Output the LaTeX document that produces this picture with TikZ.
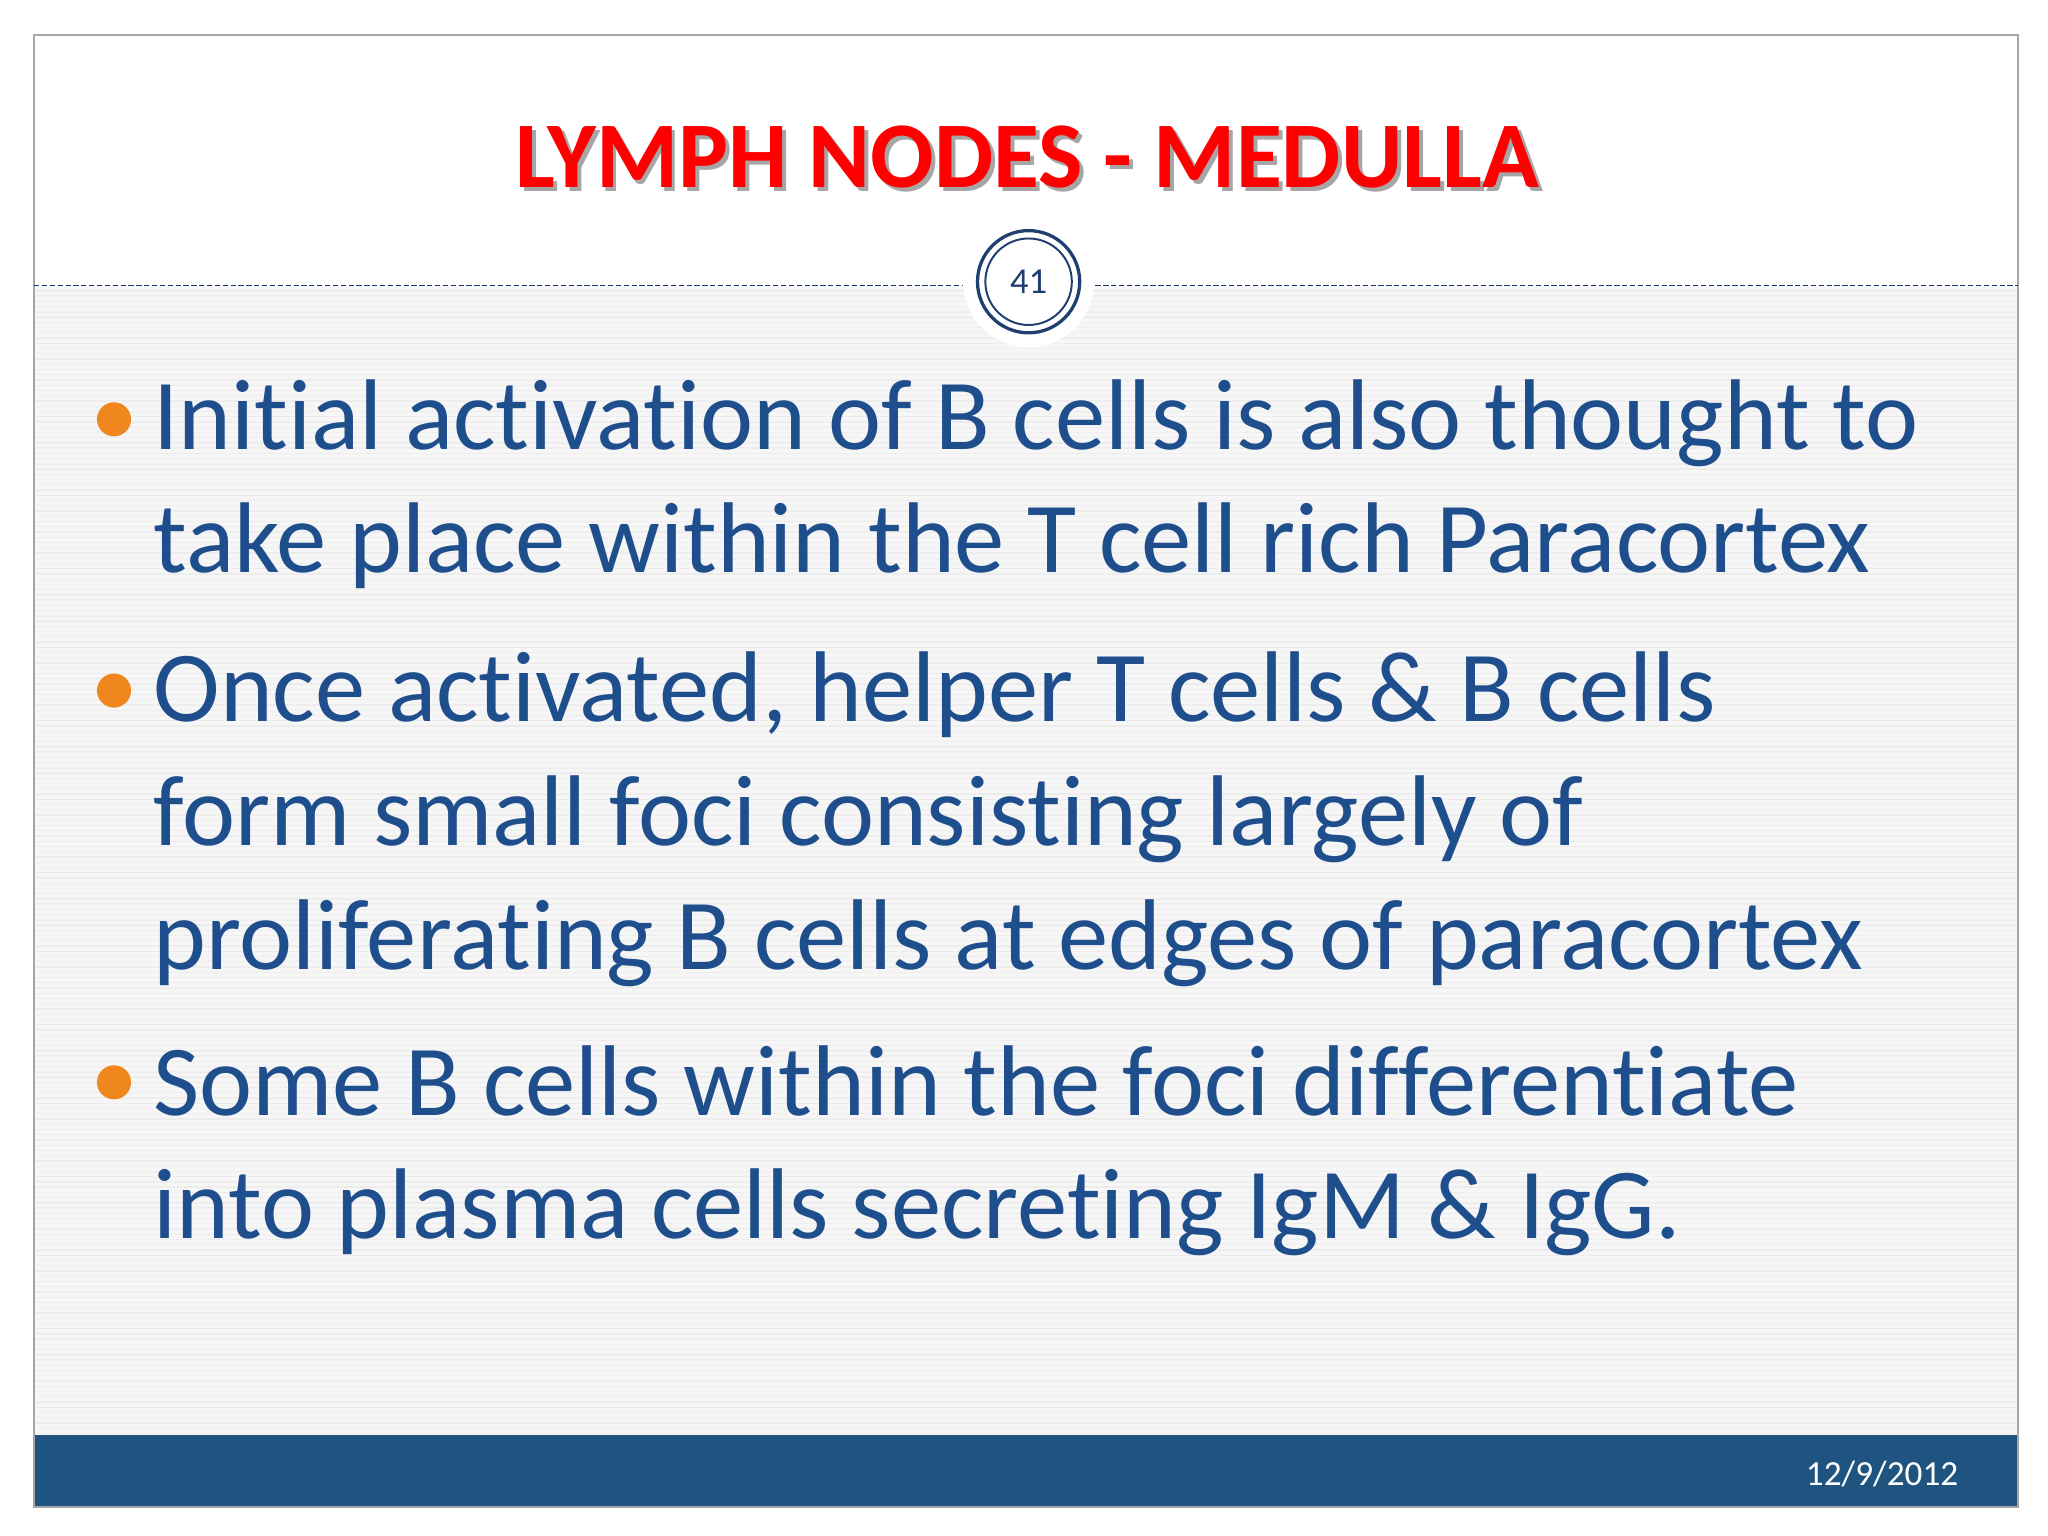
\documentclass[tikz,border=0pt]{standalone}
\usepackage{fontspec}
\setmainfont{Carlito}[Ligatures={NoCommon,NoRequired,NoContextual}]
\definecolor{txtblue}{HTML}{1F4E8C}
\definecolor{barblue}{HTML}{1F5480}
\definecolor{bul}{HTML}{F0861E}
\definecolor{ring}{HTML}{1F3F6E}
\begin{document}
\begin{tikzpicture}[x=1bp,y=-1bp,
  line/.style={anchor=base west,inner sep=0,font=\fontsize{77}{80}\selectfont,text=txtblue},
  dot/.style={circle,fill=bul,minimum size=26bp,inner sep=0}]
\useasboundingbox (0,0) rectangle (1563,1172);
\fill[white] (0,0) rectangle (1563,1172);
\fill[gray!7] (26,218) rectangle (1540,1095);
\foreach \y in {222,226,...,1094} \draw[gray!14,line width=1bp] (26,\y) -- (1540,\y);
\fill[barblue] (26,1095) rectangle (1540,1150);
\draw[gray!70,line width=1.5bp] (26,27) rectangle (1540,1150);
\draw[ring,dash pattern=on 4bp off 2bp,line width=1bp] (26,218) -- (1540,218);
\node[circle,fill=white,minimum size=100bp] (cw) at (785,215) {};
\node[circle,draw=ring,line width=2.5bp,minimum size=78bp] (c1) at (785,215) {};
\node[circle,draw=ring,line width=1.5bp,minimum size=66bp,font=\fontsize{28}{30}\selectfont,text=ring] (c2) at (785,215) {41};
\node[anchor=base,font=\bfseries\fontsize{72}{76}\selectfont,text=black!35] (tsh) at (787,146) {LYMPH NODES - MEDULLA};
\node[anchor=base,font=\bfseries\fontsize{72}{76}\selectfont,text=red] (title) at (784,143) {LYMPH NODES - MEDULLA};
\node[dot] (b1) at (87,320) {};
\node[dot] (b2) at (87,527) {};
\node[dot] (b3) at (87,826) {};
\node[line] (l1) at (117,343) {Initial activation of B cells is also thought to};
\node[line] (l2) at (117,437) {take place within the T cell rich Paracortex};
\node[line] (l3) at (117,551) {Once activated, helper T cells \& B cells};
\node[line] (l4) at (117,645) {form small foci consisting largely of};
\node[line] (l5) at (117,740) {proliferating B cells at edges of paracortex};
\node[line] (l6) at (117,851) {Some B cells within the foci differentiate};
\node[line] (l7) at (117,945) {into plasma cells secreting IgM \& IgG.};
\node[anchor=base east,text=white,font=\fontsize{27}{30}\selectfont] (date) at (1498,1134) {12/9/2012};
\end{tikzpicture}
\end{document}
